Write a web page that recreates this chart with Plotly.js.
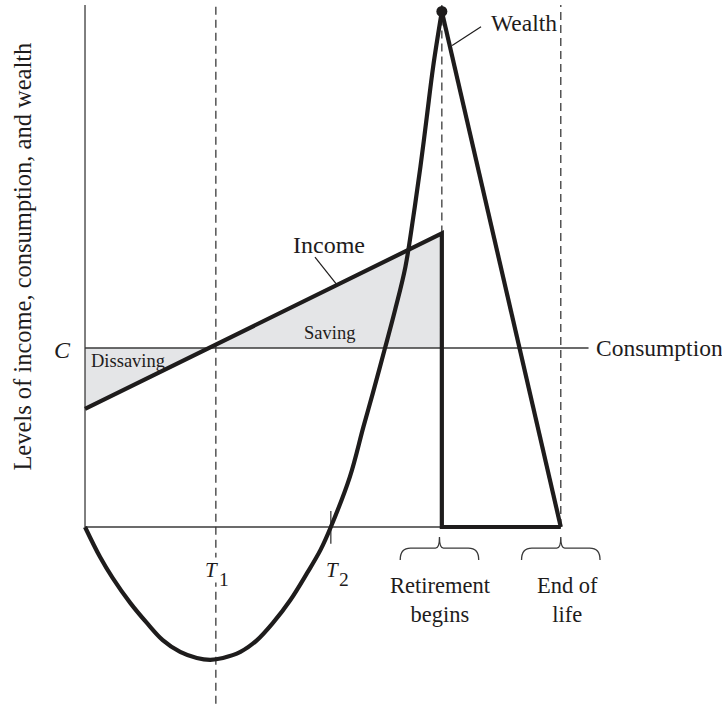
<!DOCTYPE html>
<html>
<head>
<meta charset="utf-8">
<script src="https://cdn.plot.ly/plotly-3.0.1.min.js"></script>
<style>html,body{margin:0;padding:0;background:#fff;}#chart{width:722px;height:707px;}</style>
</head>
<body>
<div id="chart"></div>
<script>
// ---- data (ages in years, levels in arbitrary units) ----
const AGE_START = 20;
const AGE_T1 = 36.5;
const AGE_T2 = 51;
const AGE_RETIRE = 65;
const AGE_DEATH = 80;
const CONSUMPTION = 50;
const incomeAges = [20, 65];
const incomeLevels = [33, 82];
const wealthAges = [20, 21.9, 23.5, 25.7, 27.8, 29.8, 32, 34.1, 35.8, 37.4, 39.6, 41.7, 43.7, 45.9, 48, 49.7, 51, 53.4, 55.1, 56.3, 57.8, 59.1, 60.4, 61.4, 62.3, 63.1, 63.9, 65];
const wealthLevels = [0, -8.4, -14.3, -21.2, -26.8, -31.6, -34.9, -36.6, -37.1, -36.6, -34.9, -31.6, -26.8, -20.4, -12.9, -6.4, 0, 14, 27.9, 37.4, 49.7, 60.6, 72.6, 86.6, 100.6, 114.5, 128.5, 144];
const PEAK_WEALTH = 144;
const AXIS_TOP = 145.8;
const T1_BOTTOM = -49.4;
const CONSUMPTION_END = 83.5;

const serif = "Liberation Serif, 'Times New Roman', Times, serif";
const ink = '#1e1c1c';
const thin = '#3a3a3a';
const fillGray = '#e4e5e7';

// crossing of income with consumption
const slope = (incomeLevels[1] - incomeLevels[0]) / (incomeAges[1] - incomeAges[0]);
const cross = incomeAges[0] + (CONSUMPTION - incomeLevels[0]) / slope;
const incomeAt = a => incomeLevels[0] + (a - incomeAges[0]) * slope;

const traces = [];
// shaded areas
traces.push({x:[cross, incomeAges[1], incomeAges[1]], y:[CONSUMPTION, incomeLevels[1], CONSUMPTION], fill:'toself', fillcolor:fillGray, mode:'lines', line:{width:0}, hoverinfo:'skip'});
traces.push({x:[AGE_START, cross, AGE_START], y:[CONSUMPTION, CONSUMPTION, incomeLevels[0]], fill:'toself', fillcolor:fillGray, mode:'lines', line:{width:0}, hoverinfo:'skip'});
// thin axes
const thinLine = (xs, ys, dash) => ({x:xs, y:ys, mode:'lines', line:{color:thin, width:1.3, dash:dash||'solid'}, hoverinfo:'skip'});
traces.push(thinLine([AGE_START, AGE_START], [0, AXIS_TOP]));
traces.push(thinLine([AGE_START, AGE_DEATH], [0, 0]));
traces.push(thinLine([AGE_START, CONSUMPTION_END], [CONSUMPTION, CONSUMPTION]));
// dashed guides
traces.push(thinLine([AGE_T1, AGE_T1], [T1_BOTTOM, AXIS_TOP], '8px,5px'));
traces.push(thinLine([AGE_RETIRE, AGE_RETIRE], [incomeLevels[1], AXIS_TOP], '8px,5px'));
traces.push(thinLine([AGE_DEATH, AGE_DEATH], [0, AXIS_TOP], '8px,5px'));
// T2 tick
traces.push(thinLine([AGE_T2, AGE_T2], [4.5, -4.7]));
// income (thick)
traces.push({x:[incomeAges[0], incomeAges[1], AGE_RETIRE, AGE_DEATH], y:[incomeLevels[0], incomeLevels[1], 0, 0], mode:'lines', line:{color:ink, width:4.2}, hoverinfo:'skip'});
// wealth
traces.push({x:wealthAges, y:wealthLevels, mode:'lines', line:{color:ink, width:4.2, shape:'spline', smoothing:1}, hoverinfo:'skip'});
traces.push({x:[AGE_RETIRE, AGE_DEATH], y:[PEAK_WEALTH, 0], mode:'lines', line:{color:ink, width:4.2}, hoverinfo:'skip'});
traces.push({x:[AGE_RETIRE], y:[PEAK_WEALTH], mode:'markers', marker:{color:ink, size:11}, hoverinfo:'skip'});

// braces
function brace(c) {
  const w = 4.95, r = 1.3, r2 = 0.5, yb = -9.2, ym = -5.9, yt = -2.8;
  return {type:'path', xref:'x', yref:'y', line:{color:thin, width:1.3},
    path:`M ${c-w},${yb} Q ${c-w},${ym} ${c-w+r},${ym} L ${c-r2},${ym} Q ${c},${ym} ${c},${yt} Q ${c},${ym} ${c+r2},${ym} L ${c+w-r},${ym} Q ${c+w},${ym} ${c+w},${yb}`};
}
const leaderIncome = [49.0, 75.4, 51.78, incomeAt(51.78)];
const leaderWealth = [66.3, 134.5, 69.94, 139.7];
const shapes = [brace(AGE_RETIRE - 0.3), brace(AGE_DEATH),
  {type:'line', xref:'x', yref:'y', x0:leaderIncome[0], y0:leaderIncome[1], x1:leaderIncome[2], y1:leaderIncome[3], line:{color:ink, width:1.2}},
  {type:'line', xref:'x', yref:'y', x0:leaderWealth[0], y0:leaderWealth[1], x1:leaderWealth[2], y1:leaderWealth[3], line:{color:ink, width:1.2}}
];

const ann = (x, y, text, size, opts) => Object.assign({x, y, xref:'x', yref:'y', text, showarrow:false, font:{family:serif, size, color:ink}}, opts||{});
const annotations = [
  ann(12.0, 75.4, 'Levels of income, consumption, and wealth', 24.5, {textangle:-90}),
  ann(17.2, 49.4, '<i>C</i>', 24),
  ann(50.77, 78.8, 'Income', 24),
  ann(50.77, 54.2, 'Saving', 18.5),
  ann(20.5, 46.4, 'Dissaving', 18.5, {xanchor:'left'}),
  ann(70.9, 140.8, 'Wealth', 23.5, {xanchor:'left'}),
  ann(84.2, 50, 'Consumption', 23.5, {xanchor:'left'}),
  ann(AGE_T1 - 0.55, -12.1, '<i>T</i>', 21, {bgcolor:'#ffffff', borderpad:0}),
  ann(AGE_T1 + 1.0, -14.6, '1', 19.5, {bgcolor:'#ffffff', borderpad:0}),
  ann(AGE_T2 + 0.15, -12.1, '<i>T</i>', 21),
  ann(AGE_T2 + 1.65, -14.6, '2', 19.5),
  ann(AGE_RETIRE - 0.2, -20.5, 'Retirement<br>begins', 22.5),
  ann(80.8, -20.5, 'End of<br>life', 22.5)
];

const layout = {
  width:722, height:707, margin:{l:0, r:0, t:0, b:0},
  paper_bgcolor:'#fff', plot_bgcolor:'#fff', showlegend:false,
  xaxis:{range:[9.28, 100.33], visible:false, fixedrange:true},
  yaxis:{range:[-50.28, 147.2], visible:false, fixedrange:true},
  shapes, annotations
};
Plotly.newPlot('chart', traces, layout, {staticPlot:true, displayModeBar:false});
</script>
</body>
</html>
